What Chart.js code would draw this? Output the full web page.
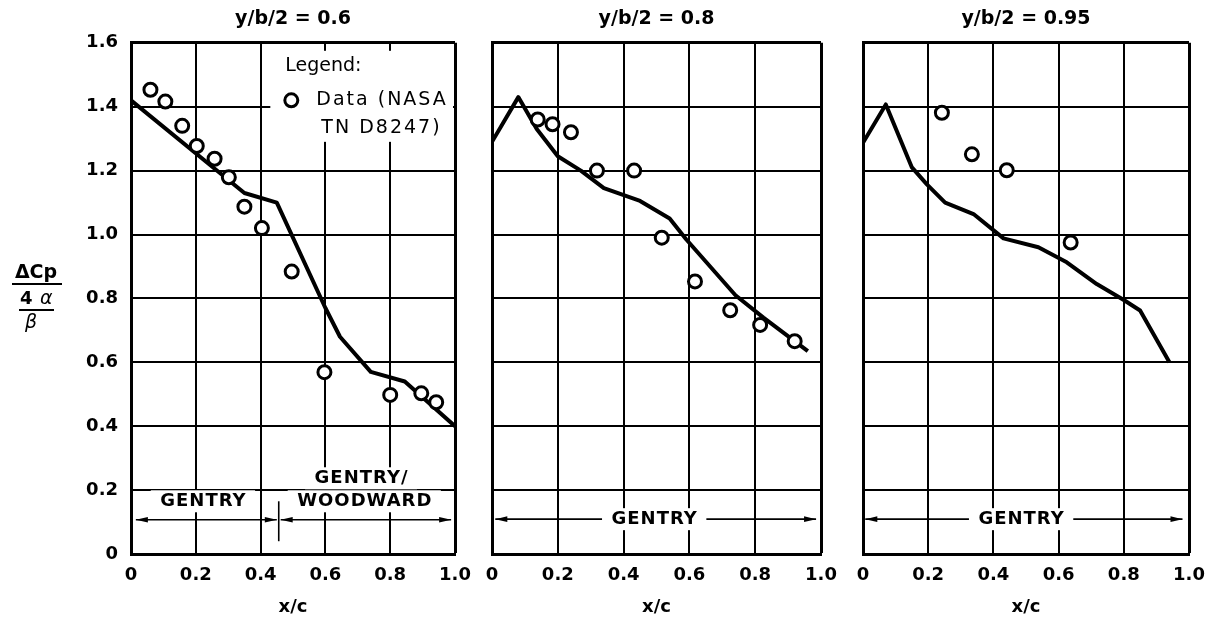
<!DOCTYPE html>
<html>
<head>
<meta charset="utf-8">
<title>Pressure coefficient distributions</title>
<script src="https://cdn.jsdelivr.net/npm/chart.js@4/dist/chart.umd.min.js"></script>
<style>
  html, body { margin: 0; padding: 0; background: #fff; }
  #wrap { position: relative; width: 1218px; height: 621px; overflow: hidden; }
  canvas { position: absolute; top: 0; }
</style>
</head>
<body>
<div id="wrap">
  <canvas id="panel06" width="482" height="621" style="left:0px"></canvas>
  <canvas id="panel08" width="376" height="621" style="left:472px"></canvas>
  <canvas id="panel095" width="375" height="621" style="left:843px"></canvas>
</div>
<script>
const xTicks = [0, 0.2, 0.4, 0.6, 0.8, 1.0];
const yTicks = [0, 0.2, 0.4, 0.6, 0.8, 1.0, 1.2, 1.4, 1.6];

// y/b/2 = 0.6 : calculated curve and test points
const calcX06 = [0, 0.35, 0.45, 0.60, 0.645, 0.74, 0.845, 1.0];
const calcY06 = [1.42, 1.13, 1.10, 0.77, 0.68, 0.57, 0.54, 0.40];
const testX06 = [0.060, 0.106, 0.158, 0.203, 0.258, 0.302, 0.350, 0.404, 0.496, 0.597, 0.800, 0.896, 0.942];
const testY06 = [1.453, 1.416, 1.340, 1.277, 1.237, 1.179, 1.087, 1.020, 0.884, 0.569, 0.498, 0.503, 0.475];

// y/b/2 = 0.8
const calcX08 = [0, 0.08, 0.136, 0.20, 0.27, 0.34, 0.45, 0.54, 0.59, 0.74, 0.825, 0.96];
const calcY08 = [1.29, 1.43, 1.33, 1.245, 1.20, 1.145, 1.105, 1.05, 0.985, 0.81, 0.74, 0.635];
const testX08 = [0.139, 0.184, 0.240, 0.319, 0.432, 0.516, 0.617, 0.724, 0.815, 0.920];
const testY08 = [1.360, 1.345, 1.320, 1.200, 1.200, 0.990, 0.853, 0.763, 0.717, 0.666];

// y/b/2 = 0.95
const calcX095 = [0, 0.07, 0.15, 0.196, 0.252, 0.339, 0.431, 0.538, 0.625, 0.717, 0.80, 0.85, 0.94];
const calcY095 = [1.287, 1.407, 1.21, 1.157, 1.10, 1.064, 0.988, 0.96, 0.913, 0.845, 0.795, 0.762, 0.60];
const testX095 = [0.242, 0.334, 0.441, 0.637];
const testY095 = [1.381, 1.251, 1.201, 0.975];

Chart.defaults.font.family = "'DejaVu Sans', sans-serif";
Chart.defaults.color = '#000';

function toPoints(xs, ys) {
  return xs.map((x, i) => ({ x: x, y: ys[i] }));
}

function arrowHead(ctx, x, y, dir) {
  ctx.beginPath();
  ctx.moveTo(x, y);
  ctx.lineTo(x - dir * 12, y - 2.8);
  ctx.lineTo(x - dir * 12, y + 2.8);
  ctx.closePath();
  ctx.fill();
}

// legend box, range arrows and method labels drawn over the grid
const panelMarks = {
  id: 'panelMarks',
  beforeDatasetsDraw(chart, args, opts) {
    const ctx = chart.ctx;
    const xs = chart.scales.x, ys = chart.scales.y;
    const area = chart.chartArea;
    ctx.save();
    ctx.fillStyle = '#000';
    ctx.strokeStyle = '#000';

    if (opts.legend) {
      const l = xs.getPixelForValue(0.43);
      const t = ys.getPixelForValue(1.575);
      const b = ys.getPixelForValue(1.29);
      ctx.fillStyle = '#fff';
      ctx.fillRect(l, t, area.right - 2 - l, b - t);
      ctx.fillStyle = '#000';
      ctx.font = "19px 'DejaVu Sans'";
      ctx.textBaseline = 'middle';
      ctx.textAlign = 'left';
      ctx.fillText('Legend:', l + 15, ys.getPixelForValue(1.527));
      const cy = ys.getPixelForValue(1.42);
      ctx.beginPath();
      ctx.arc(l + 21, cy, 6.5, 0, Math.PI * 2);
      ctx.lineWidth = 3;
      ctx.fillStyle = '#fff';
      ctx.fill();
      ctx.stroke();
      ctx.fillStyle = '#000';
      ctx.letterSpacing = '2px';
      ctx.fillText('Data (NASA', l + 46, cy);
      ctx.fillText('TN D8247)', l + 51, ys.getPixelForValue(1.333));
      ctx.letterSpacing = '0px';
    }

    ctx.lineWidth = 1.6;
    (opts.spans || []).forEach(s => {
      const y = ys.getPixelForValue(s.y);
      const x0 = xs.getPixelForValue(s.from);
      const x1 = xs.getPixelForValue(s.to);
      ctx.beginPath();
      ctx.moveTo(x0, y);
      ctx.lineTo(x1, y);
      ctx.stroke();
      arrowHead(ctx, x0, y, -1);
      arrowHead(ctx, x1, y, 1);
    });

    if (opts.divider) {
      const d = opts.divider;
      const x = xs.getPixelForValue(d.x);
      ctx.beginPath();
      ctx.moveTo(x, ys.getPixelForValue(d.y0));
      ctx.lineTo(x, ys.getPixelForValue(d.y1));
      ctx.stroke();
    }

    ctx.font = "bold 18px 'DejaVu Sans'";
    ctx.letterSpacing = '1px';
    ctx.textAlign = 'center';
    ctx.textBaseline = 'middle';
    (opts.labels || []).forEach(lb => {
      const x = xs.getPixelForValue(lb.x);
      const y = ys.getPixelForValue(lb.y);
      const w = ctx.measureText(lb.text).width;
      ctx.fillStyle = '#fff';
      ctx.fillRect(x - w / 2 - 9, y - 11, w + 18, 22);
    });
    (opts.labels || []).forEach(lb => {
      ctx.fillStyle = '#000';
      ctx.fillText(lb.text, xs.getPixelForValue(lb.x) + 0.5, ys.getPixelForValue(lb.y));
    });
    ctx.restore();
  },
  afterDraw(chart, args, opts) {
    if (!opts.yLabel) return;
    const ctx = chart.ctx;
    ctx.save();
    ctx.fillStyle = '#000';
    ctx.strokeStyle = '#000';
    ctx.textAlign = 'center';
    ctx.textBaseline = 'middle';
    ctx.font = "bold 19px 'DejaVu Sans'";
    ctx.fillText('\u0394Cp', 36, 273);
    ctx.lineWidth = 2;
    ctx.beginPath();
    ctx.moveTo(12, 284);
    ctx.lineTo(62, 284);
    ctx.stroke();
    ctx.font = "bold 18px 'DejaVu Sans'";
    ctx.textAlign = 'left';
    ctx.fillText('4', 20, 299);
    ctx.font = "italic 19px 'DejaVu Sans'";
    ctx.fillText('\u03b1', 40, 299);
    ctx.beginPath();
    ctx.moveTo(19, 310);
    ctx.lineTo(54, 310);
    ctx.stroke();
    ctx.textAlign = 'center';
    ctx.fillText('\u03b2', 31, 323);
    ctx.restore();
  }
};

function makePanel(id, title, calcX, calcY, testX, testY, marks, pad, showY) {
  const lastX = xTicks.length - 1;
  const lastY = yTicks.length - 1;
  return new Chart(document.getElementById(id), {
    type: 'scatter',
    data: {
      datasets: [
        {
          data: toPoints(testX, testY),
          pointRadius: 6.5,
          pointStyle: 'circle',
          borderWidth: 3,
          borderColor: '#000',
          backgroundColor: '#fff',
          showLine: false
        },
        {
          data: toPoints(calcX, calcY),
          showLine: true,
          pointRadius: 0,
          borderWidth: 4,
          borderColor: '#000',
          borderJoinStyle: 'round',
          fill: false,
          tension: 0
        }
      ]
    },
    options: {
      responsive: false,
      animation: false,
      events: [],
      layout: { padding: pad },
      plugins: {
        legend: { display: false },
        tooltip: { enabled: false },
        title: {
          display: true,
          text: title,
          fullSize: false,
          color: '#000',
          font: { size: 19, weight: 'bold' },
          padding: { top: 8, bottom: 12 }
        },
        panelMarks: marks
      },
      scales: {
        x: {
          type: 'linear',
          min: 0,
          max: 1,
          afterBuildTicks: axis => { axis.ticks = xTicks.map(v => ({ value: v })); },
          afterFit: axis => { axis.height = 67; },
          ticks: {
            autoSkip: false,
            maxRotation: 0,
            padding: 11,
            font: { size: 18, weight: 'bold' },
            callback: v => v === 0 ? '0' : v.toFixed(1)
          },
          grid: {
            color: '#000',
            drawTicks: false,
            lineWidth: c => (c.index === lastX ? 3 : 2)
          },
          border: { color: '#000', width: 3 },
          title: {
            display: true,
            text: 'x/c',
            color: '#000',
            font: { size: 18, weight: 'bold' },
            padding: { top: 0, bottom: 3 }
          }
        },
        y: {
          type: 'linear',
          min: 0,
          max: 1.6,
          afterBuildTicks: axis => { axis.ticks = yTicks.map(v => ({ value: v })); },
          afterFit: axis => { axis.width = showY ? 131 : 0; },
          ticks: {
            display: showY,
            autoSkip: false,
            padding: 13,
            font: { size: 18, weight: 'bold' },
            callback: v => v === 0 ? '0' : v.toFixed(1)
          },
          grid: {
            color: '#000',
            drawTicks: false,
            lineWidth: c => (c.index === lastY ? 3 : 2)
          },
          border: { color: '#000', width: 3 }
        }
      }
    },
    plugins: [panelMarks]
  });
}

makePanel('panel06', 'y/b/2 = 0.6', calcX06, calcY06, testX06, testY06, {
  legend: true,
  yLabel: true,
  spans: [
    { from: 0.015, to: 0.45, y: 0.107 },
    { from: 0.462, to: 0.988, y: 0.107 }
  ],
  divider: { x: 0.456, y0: 0.04, y1: 0.165 },
  labels: [
    { text: 'GENTRY', x: 0.222, y: 0.165 },
    { text: 'GENTRY/', x: 0.71, y: 0.237 },
    { text: 'WOODWARD', x: 0.72, y: 0.165 }
  ]
}, { top: 0, right: 27, bottom: 0, left: 0 }, true);

makePanel('panel08', 'y/b/2 = 0.8', calcX08, calcY08, testX08, testY08, {
  spans: [{ from: 0.01, to: 0.985, y: 0.109 }],
  labels: [{ text: 'GENTRY', x: 0.493, y: 0.109 }]
}, { top: 0, right: 27, bottom: 0, left: 20 }, false);

makePanel('panel095', 'y/b/2 = 0.95', calcX095, calcY095, testX095, testY095, {
  spans: [{ from: 0.007, to: 0.98, y: 0.109 }],
  labels: [{ text: 'GENTRY', x: 0.485, y: 0.109 }]
}, { top: 0, right: 29, bottom: 0, left: 20 }, false);
</script>
</body>
</html>
